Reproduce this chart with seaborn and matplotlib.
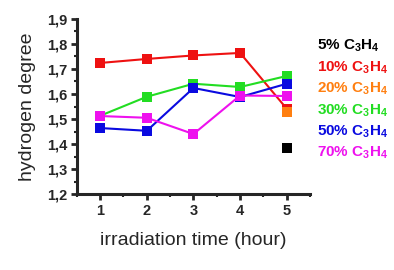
import matplotlib
matplotlib.use("Agg")
import matplotlib.pyplot as plt
from matplotlib.ticker import MultipleLocator
import seaborn as sns
import pandas as pd

# data
hours = [1, 2, 3, 4, 5]
h_5 = [None, None, None, None, 1.385]
h_10 = [1.724, 1.740, 1.754, 1.764, 1.541]
h_20 = [None, None, None, None, 1.528]
h_30 = [1.513, 1.589, 1.641, 1.628, 1.672]
h_50 = [1.464, 1.453, 1.624, 1.588, 1.641]
h_70 = [1.512, 1.505, 1.440, 1.594, 1.592]

labels = ["5%", "10%", "20%", "30%", "50%", "70%"]
colors = ["#000000", "#ee1111", "#ff7f10", "#22dd22", "#0a0ae0", "#ee11ee"]

rows = []
for lab, vals in zip(labels, [h_5, h_10, h_20, h_30, h_50, h_70]):
    for t, v in zip(hours, vals):
        if v is not None:
            rows.append({"time": t, "degree": v, "conc": lab})
df = pd.DataFrame(rows)

sns.set_style("ticks")
plt.rcParams["font.family"] = ["Liberation Sans", "DejaVu Sans"]
plt.rcParams["mathtext.fontset"] = "custom"
plt.rcParams["mathtext.rm"] = "Liberation Sans:bold"
plt.rcParams["mathtext.it"] = "Liberation Sans:bold"
plt.rcParams["mathtext.bf"] = "Liberation Sans:bold"

fig = plt.figure(figsize=(3.94, 2.70), dpi=100)
ax = fig.add_axes([0.195, 0.281, 0.592, 0.649])

sns.lineplot(data=df, x="time", y="degree", hue="conc", hue_order=labels,
             palette=dict(zip(labels, colors)), marker="s", markersize=6.5,
             markeredgewidth=0, linewidth=1.5, legend=False, ax=ax)

ax.set_xlim(0.5, 5.5)
ax.set_ylim(1.2, 1.9)
ax.xaxis.set_major_locator(MultipleLocator(1))
ax.xaxis.set_minor_locator(MultipleLocator(0.5))
ax.yaxis.set_major_locator(MultipleLocator(0.1))
ax.yaxis.set_minor_locator(MultipleLocator(0.05))
ax.yaxis.set_major_formatter(lambda v, p: f"{v:.1f}".replace(".", ","))
ax.tick_params(which="major", length=4, width=2, labelsize=10.5, pad=3)
ax.tick_params(which="minor", length=2.5, width=1.5)
for t in ax.get_xticklabels() + ax.get_yticklabels():
    t.set_fontweight("bold")

sns.despine(ax=ax)
for s in ["left", "bottom"]:
    ax.spines[s].set_linewidth(2.2)

ax.set_xlabel("irradiation time (hour)", fontsize=14, labelpad=10)
ax.set_ylabel("hydrogen degree", fontsize=14, labelpad=8)

handles = [plt.Line2D([], [], color=c, linestyle="none") for c in colors]
texts = [f"{lab} C$_3$H$_4$" for lab in labels]
leg = ax.legend(handles, texts, loc="upper left", bbox_to_anchor=(0.785, 0.888),
                bbox_transform=fig.transFigure, frameon=False, borderpad=0,
                handlelength=0, handletextpad=0, labelcolor="linecolor",
                labelspacing=0.33, prop={"weight": "bold", "size": 11})

fig.savefig("out.png", dpi=100)
